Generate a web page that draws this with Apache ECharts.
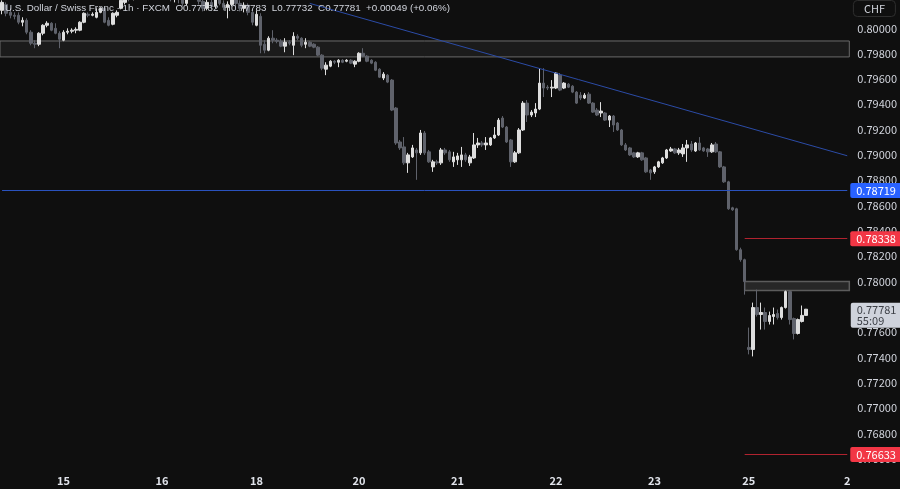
<!DOCTYPE html>
<html><head><meta charset="utf-8">
<script src="https://cdn.jsdelivr.net/npm/echarts@6/dist/echarts.min.js"></script>
<style>html,body{margin:0;padding:0;background:#0f0f0f;}#c{width:900px;height:489px;}</style>
</head><body><div id="c"></div>
<script>
// ---- data (hourly USD/CHF candles) ----
const opens = [
0.80142,0.80189,0.80126,0.80103,0.80103,0.80048,0.80063,0.79969,0.79882,0.79874,
0.79961,0.80024,0.80040,0.80000,0.79961,0.79906,0.79969,0.79977,0.79985,0.79985,
0.80048,0.80111,0.80103,0.80087,0.80126,0.80158,0.80063,0.80032,0.80103,0.80158,
0.80205,0.80260,0.80237,0.80292,0.80331,0.80300,0.80253,0.80284,0.80339,0.80379,
0.80323,0.80284,0.80237,0.80268,0.80229,0.80197,0.80245,0.80292,0.80260,0.80213,
0.80158,0.80205,0.80174,0.80237,0.80197,0.80166,0.80189,0.80229,0.80197,0.80158,
0.80182,0.80126,0.80024,0.80095,0.79874,0.79827,0.79922,0.79906,0.79898,0.79859,
0.79890,0.79866,0.79937,0.79922,0.79874,0.79890,0.79874,0.79851,0.79788,0.79677,
0.79701,0.79740,0.79732,0.79748,0.79740,0.79748,0.79717,0.79740,0.79803,0.79780,
0.79748,0.79732,0.79677,0.79607,0.79630,0.79591,0.79370,0.79102,0.79063,0.78937,
0.78984,0.79039,0.79016,0.79173,0.79024,0.78905,0.78945,0.78937,0.79039,0.79024,
0.78945,0.78961,0.78961,0.79000,0.78937,0.78976,0.79079,0.79094,0.79079,0.79079,
0.79134,0.79157,0.79291,0.79220,0.79118,0.78945,0.79016,0.79197,0.79409,0.79315,
0.79331,0.79362,0.79567,0.79535,0.79528,0.79528,0.79630,0.79528,0.79559,0.79543,
0.79496,0.79472,0.79449,0.79480,0.79409,0.79354,0.79331,0.79331,0.79275,0.79307,
0.79252,0.79197,0.79079,0.79055,0.79016,0.78984,0.79016,0.78976,0.78881,0.78866,
0.78905,0.78937,0.78976,0.79031,0.79047,0.79016,0.79008,0.79055,0.79086,0.79031,
0.79094,0.79055,0.79047,0.79024,0.79086,0.79024,0.78905,0.78787,0.78582,0.78574,
0.78251,0.78172,0.77479,0.77463,0.77794,0.77739,0.77755,0.77684,0.77723,0.77747,
0.77715,0.77794,0.77920,0.77707,0.77589,0.77684,0.77732];
const closes = [
0.80205,0.80119,0.80103,0.80095,0.80048,0.80063,0.79969,0.79882,0.79874,0.79961,
0.80024,0.80040,0.79985,0.79961,0.79914,0.79969,0.79977,0.79985,0.79992,0.80048,
0.80119,0.80103,0.80111,0.80126,0.80158,0.80048,0.80024,0.80119,0.80126,0.80221,
0.80260,0.80237,0.80292,0.80331,0.80300,0.80253,0.80284,0.80339,0.80379,0.80323,
0.80284,0.80237,0.80268,0.80229,0.80197,0.80245,0.80292,0.80260,0.80213,0.80158,
0.80205,0.80174,0.80237,0.80197,0.80166,0.80189,0.80229,0.80197,0.80158,0.80182,
0.80126,0.80048,0.80111,0.79866,0.79827,0.79922,0.79906,0.79898,0.79859,0.79890,
0.79882,0.79937,0.79922,0.79866,0.79890,0.79859,0.79851,0.79788,0.79685,0.79709,
0.79740,0.79732,0.79748,0.79732,0.79748,0.79725,0.79740,0.79803,0.79780,0.79740,
0.79725,0.79669,0.79614,0.79638,0.79575,0.79354,0.79094,0.79055,0.78937,0.79000,
0.79055,0.79016,0.79173,0.79016,0.78945,0.78945,0.78937,0.79039,0.79016,0.78961,
0.78984,0.78992,0.79000,0.78961,0.78984,0.79079,0.79094,0.79079,0.79094,0.79134,
0.79157,0.79275,0.79220,0.79102,0.78945,0.79016,0.79197,0.79409,0.79315,0.79338,
0.79362,0.79567,0.79528,0.79528,0.79535,0.79646,0.79512,0.79567,0.79535,0.79496,
0.79409,0.79449,0.79472,0.79409,0.79338,0.79315,0.79346,0.79275,0.79307,0.79236,
0.79197,0.79079,0.79039,0.79000,0.78984,0.79016,0.78961,0.78866,0.78858,0.78905,
0.78945,0.78976,0.79039,0.79047,0.79016,0.79039,0.79055,0.79079,0.79039,0.79094,
0.79039,0.79031,0.79024,0.79079,0.79024,0.78905,0.78787,0.78574,0.78566,0.78251,
0.78172,0.77999,0.77463,0.77794,0.77739,0.77755,0.77684,0.77731,0.77739,0.77715,
0.77794,0.77920,0.77699,0.77589,0.77699,0.77732,0.77781];
const highs = [
0.80221,0.80205,0.80158,0.80126,0.80126,0.80087,0.80079,0.79985,0.79906,0.79969,
0.80032,0.80056,0.80048,0.80040,0.79977,0.79985,0.80000,0.80000,0.80008,0.80056,
0.80126,0.80126,0.80126,0.80158,0.80166,0.80166,0.80087,0.80126,0.80142,0.80245,
0.80284,0.80292,0.80316,0.80355,0.80363,0.80316,0.80308,0.80371,0.80410,0.80402,
0.80339,0.80300,0.80292,0.80284,0.80253,0.80260,0.80316,0.80323,0.80276,0.80237,
0.80229,0.80245,0.80260,0.80268,0.80221,0.80213,0.80253,0.80253,0.80221,0.80205,
0.80197,0.80150,0.80142,0.80119,0.79906,0.79937,0.79985,0.79922,0.79914,0.79922,
0.79906,0.79969,0.79953,0.79929,0.79922,0.79898,0.79882,0.79859,0.79796,0.79732,
0.79748,0.79748,0.79756,0.79756,0.79756,0.79756,0.79748,0.79811,0.79843,0.79788,
0.79756,0.79740,0.79685,0.79654,0.79638,0.79599,0.79378,0.79118,0.79141,0.79016,
0.79079,0.79055,0.79197,0.79189,0.79039,0.78961,0.78961,0.79055,0.79055,0.79039,
0.79024,0.79016,0.79063,0.79016,0.79000,0.79173,0.79134,0.79110,0.79141,0.79141,
0.79220,0.79291,0.79307,0.79228,0.79126,0.79031,0.79212,0.79425,0.79433,0.79354,
0.79409,0.79685,0.79685,0.79551,0.79591,0.79654,0.79646,0.79575,0.79567,0.79551,
0.79504,0.79496,0.79488,0.79496,0.79417,0.79370,0.79417,0.79338,0.79315,0.79315,
0.79260,0.79205,0.79094,0.79063,0.79024,0.79024,0.79024,0.78984,0.78889,0.78913,
0.78953,0.78984,0.79047,0.79063,0.79055,0.79055,0.79086,0.79118,0.79110,0.79102,
0.79141,0.79063,0.79055,0.79094,0.79102,0.79031,0.78913,0.78795,0.78590,0.78582,
0.78267,0.78180,0.77636,0.77833,0.77936,0.77833,0.77794,0.77762,0.77794,0.77778,
0.77802,0.77928,0.77928,0.77715,0.77707,0.77810,0.77783];
const lows = [
0.80111,0.80095,0.80079,0.80071,0.80032,0.80016,0.79953,0.79866,0.79843,0.79859,
0.79945,0.80008,0.79977,0.79953,0.79843,0.79898,0.79953,0.79961,0.79961,0.79977,
0.80040,0.80087,0.80095,0.80079,0.80119,0.80040,0.80016,0.80024,0.80087,0.80150,
0.80189,0.80213,0.80221,0.80276,0.80268,0.80229,0.80229,0.80268,0.80316,0.80300,
0.80260,0.80213,0.80205,0.80197,0.80174,0.80182,0.80229,0.80237,0.80189,0.80134,
0.80142,0.80150,0.80158,0.80182,0.80142,0.80079,0.80174,0.80174,0.80134,0.80126,
0.80103,0.80024,0.80016,0.79803,0.79803,0.79819,0.79882,0.79882,0.79851,0.79811,
0.79866,0.79788,0.79906,0.79851,0.79843,0.79851,0.79843,0.79780,0.79669,0.79630,
0.79693,0.79717,0.79693,0.79725,0.79732,0.79717,0.79693,0.79732,0.79772,0.79732,
0.79717,0.79662,0.79607,0.79591,0.79567,0.79346,0.79079,0.79039,0.78921,0.78858,
0.78976,0.78803,0.79000,0.79000,0.78937,0.78866,0.78921,0.78921,0.79000,0.78945,
0.78905,0.78921,0.78905,0.78945,0.78913,0.78968,0.79055,0.79063,0.79039,0.79071,
0.79126,0.79149,0.79212,0.79094,0.78905,0.78937,0.79008,0.79189,0.79260,0.79299,
0.79299,0.79354,0.79457,0.79512,0.79457,0.79520,0.79504,0.79520,0.79528,0.79488,
0.79402,0.79433,0.79441,0.79402,0.79331,0.79307,0.79299,0.79268,0.79220,0.79181,
0.79189,0.79071,0.79031,0.78992,0.78976,0.78976,0.78953,0.78858,0.78803,0.78850,
0.78897,0.78929,0.78968,0.79024,0.79008,0.79000,0.78984,0.78945,0.79024,0.79024,
0.79031,0.79024,0.78984,0.79016,0.79016,0.78897,0.78779,0.78566,0.78558,0.78243,
0.78156,0.77896,0.77424,0.77408,0.77723,0.77620,0.77620,0.77660,0.77660,0.77699,
0.77699,0.77786,0.77660,0.77542,0.77581,0.77676,0.77732];

const slotCount = 207;                       // candle slots incl. empty space on the right
const dayTickIndex  = [15, 39, 62, 87, 111, 135, 159, 182, 206];
const dayTickLabels = ['15','16','18','20','21','22','23','25','2'];
const yMin = 0.764, yMax = 0.802, yStep = 0.002;
const resistanceZone = [0.79900, 0.79774];
const supportZone = [0.78000, 0.77929];
const levelStartIndex = 181;
const blueLevel = 0.78719;
const redLevels = [0.78338, 0.76633];
const trendStart = [75, 0.80197];
const trendEnd = [206, 0.78993];
const countdown = '55:09';

// ---- chart ----
const FONT = "'Noto Sans CJK SC','Liberation Sans',sans-serif";
const HFONT = "'Liberation Sans',Arial,sans-serif";
const UP = '#dedede', DOWN = '#5f626b';
const categories = Array.from({length: slotCount}, (_, i) => String(i));
const ohlc = opens.map((o, i) => [o, closes[i], lows[i], highs[i]]);
const last = opens.length - 1;
const prevClose = closes[last - 1];
const chg = closes[last] - prevClose;
const pct = chg / prevClose * 100;
const headerText = 'U.S. Dollar / Swiss Franc · 1h · FXCM  O' + opens[last].toFixed(5) +
  '  H' + highs[last].toFixed(5) + '  L' + lows[last].toFixed(5) + '  C' + closes[last].toFixed(5) +
  '  ' + (chg >= 0 ? '+' : '') + chg.toFixed(5) + ' (' + (pct >= 0 ? '+' : '') + pct.toFixed(2) + '%)';

function tag(bg, fg, dist, text) {
  return {show: true, position: 'end', distance: dist, backgroundColor: bg, color: fg, formatter: text,
    padding: [2, 6, 1, 6], fontSize: 11, lineHeight: 12, fontFamily: FONT, borderRadius: 2};
}
const first = categories[0], end = categories[slotCount - 1], lvl = categories[levelStartIndex];

const chart = echarts.init(document.getElementById('c'), null, {renderer: 'canvas'});
chart.setOption({
  backgroundColor: '#0f0f0f',
  animation: false,
  title: [
    {text: headerText, left: 5, top: 3, padding: 0,
     textStyle: {color: '#d1d4dc', fontSize: 9.8, fontWeight: 'normal', fontFamily: HFONT}},
    {text: 'CHF', right: 4, top: 0, padding: [3, 11, 3, 11], borderColor: '#2e2e2e', borderWidth: 1, borderRadius: 4,
     textStyle: {color: '#d1d4dc', fontSize: 11, fontWeight: 'normal', fontFamily: FONT}}
  ],
  grid: {left: 0, right: 48, top: 3, bottom: 5},
  xAxis: {
    type: 'category', data: categories, boundaryGap: true, offset: -13,
    axisLine: {show: false}, axisTick: {show: false}, splitLine: {show: false},
    axisLabel: {
      interval: (idx) => dayTickIndex.indexOf(idx) >= 0,
      formatter: (v, idx) => { const k = dayTickIndex.indexOf(idx); return k >= 0 ? dayTickLabels[k] : ''; },
      color: '#e0e3ea', fontSize: 11, margin: 4, fontFamily: FONT, fontWeight: 'bold'
    }
  },
  yAxis: {
    type: 'value', position: 'right', min: yMin, max: yMax, interval: yStep,
    axisLine: {show: false}, axisTick: {show: false}, splitLine: {show: false},
    axisLabel: {color: '#d1d4dc', fontSize: 11, margin: 8, fontFamily: FONT,
      formatter: v => (v > 0.8001 || v < 0.7649) ? '' : v.toFixed(5)}
  },
  series: [{
    type: 'candlestick', data: ohlc, barWidth: 3, clip: false,
    itemStyle: {color: UP, color0: DOWN, borderColor: UP, borderColor0: DOWN, borderWidth: 1},
    markArea: {
      silent: true,
      data: [
        [{yAxis: resistanceZone[0], itemStyle: {color: 'rgba(255,255,255,0.05)', borderColor: '#6a6a6a', borderWidth: 1}},
         {yAxis: resistanceZone[1]}],
        [{xAxis: lvl, yAxis: supportZone[0], itemStyle: {color: 'rgba(255,255,255,0.10)', borderColor: '#5c5c5c', borderWidth: 1.5}},
         {yAxis: supportZone[1]}]
      ]
    },
    markLine: {
      silent: true, symbol: ['none', 'none'],
      data: [
        [{coord: [first, blueLevel], lineStyle: {color: '#2a52be', width: 1, type: 'solid'},
          label: tag('#2962ff', '#ffffff', 3, blueLevel.toFixed(5))},
         {coord: [end, blueLevel]}],
        [{coord: [lvl, redLevels[0]], lineStyle: {color: '#b0232f', width: 1, type: 'solid'},
          label: tag('#f23645', '#ffffff', 3, redLevels[0].toFixed(5))},
         {coord: [end, redLevels[0]]}],
        [{coord: [lvl, redLevels[1]], lineStyle: {color: '#b0232f', width: 1, type: 'solid'},
          label: tag('#f23645', '#ffffff', 3, redLevels[1].toFixed(5))},
         {coord: [end, redLevels[1]]}],
        [{coord: [categories[trendStart[0]], trendStart[1]], lineStyle: {color: '#2b4ba6', width: 1, type: 'solid'},
          label: {show: false}},
         {coord: [categories[trendEnd[0]], trendEnd[1]]}]
      ]
    },
    markPoint: {
      silent: true,
      data: [{
        coord: [end, closes[last]], symbol: 'rect', symbolSize: [1, 1],
        itemStyle: {color: 'rgba(0,0,0,0)'},
        label: {show: true, position: 'right', distance: 3, offset: [0, 6],
          formatter: closes[last].toFixed(5) + '\n' + countdown,
          backgroundColor: '#cfd3dc', color: '#3c3f46', padding: [2, 6, 1, 6],
          fontSize: 11, lineHeight: 11, fontFamily: FONT, borderRadius: 2}
      }]
    }
  }]
});
</script>
</body></html>
